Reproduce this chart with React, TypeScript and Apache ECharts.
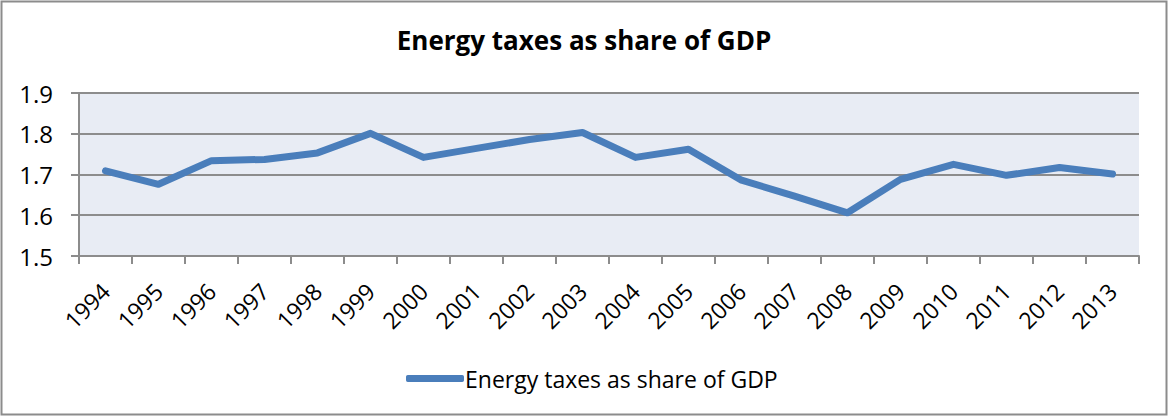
import React, { useEffect, useRef } from "react";
import * as echarts from "echarts";

const years = ["1994","1995","1996","1997","1998","1999","2000","2001","2002","2003","2004","2005","2006","2007","2008","2009","2010","2011","2012","2013"];
const energyTaxes = [1.709,1.676,1.734,1.737,1.753,1.801,1.742,1.764,1.786,1.803,1.742,1.762,1.686,1.647,1.606,1.688,1.725,1.698,1.717,1.701];
const seriesName = "Energy taxes as share of GDP";
const chartTitle = "Energy taxes as share of GDP";

const FONT = "'Open Sans', sans-serif";

export default function App() {
  const ref = useRef<HTMLDivElement>(null);
  useEffect(() => {
    if (!ref.current) return;
    const chart = echarts.init(ref.current, null, { renderer: "svg" });
    chart.setOption({
      animation: false,
      backgroundColor: "#ffffff",
      title: {
        text: chartTitle,
        left: "center",
        top: 22,
        textStyle: { fontFamily: FONT, fontSize: 26, fontWeight: "bold", color: "#000" },
      },
      graphic: [
        {
          type: "rect",
          shape: { x: 1.5, y: 1.5, width: 1165, height: 413 },
          style: { fill: "none", stroke: "#8c8c8c", lineWidth: 2 },
          silent: true,
        },
      ],
      legend: {
        left: 401,
        top: 362,
        icon: "roundRect",
        itemWidth: 58,
        itemHeight: 7,
        itemGap: 0,
        textStyle: { fontFamily: FONT, fontSize: 23, color: "#000", padding: [0, 0, 0, -4] },
        data: [{ name: seriesName, icon: "roundRect" }],
      },
      grid: {
        left: 79,
        right: 29,
        top: 93,
        bottom: 161,
        show: true,
        backgroundColor: "#e8ecf4",
        borderWidth: 0,
      },
      xAxis: {
        type: "category",
        data: years,
        boundaryGap: true,
        axisLine: { lineStyle: { color: "#8c8c8c", width: 2 } },
        axisTick: { show: true, length: 8, alignWithLabel: false, interval: 0, lineStyle: { color: "#8c8c8c", width: 2 } },
        axisLabel: {
          interval: 0,
          rotate: 45,
          margin: 31,
          fontFamily: FONT,
          fontSize: 23,
          color: "#000",
        },
        splitLine: { show: false },
      },
      yAxis: {
        type: "value",
        min: 1.5,
        max: 1.9,
        interval: 0.1,
        axisLine: { show: true, lineStyle: { color: "#8c8c8c", width: 2 } },
        axisTick: { show: true, length: 8, lineStyle: { color: "#8c8c8c", width: 2 } },
        axisLabel: {
          margin: 26,
          fontFamily: FONT,
          fontSize: 24,
          color: "#000",
          formatter: (v: number) => v.toFixed(1),
        },
        splitLine: { show: true, lineStyle: { color: "#8c8c8c", width: 2 } },
      },
      series: [
        {
          name: seriesName,
          type: "line",
          data: energyTaxes,
          showSymbol: false,
          symbol: "none",
          itemStyle: { color: "#4a7ebb" },
          lineStyle: { color: "#4a7ebb", width: 7, cap: "round", join: "round" },
        },
      ],
    });
    return () => chart.dispose();
  }, []);
  return (
    <div
      ref={ref}
      style={{ position: "absolute", left: 0, top: 0, width: 1168, height: 417 }}
    />
  );
}
